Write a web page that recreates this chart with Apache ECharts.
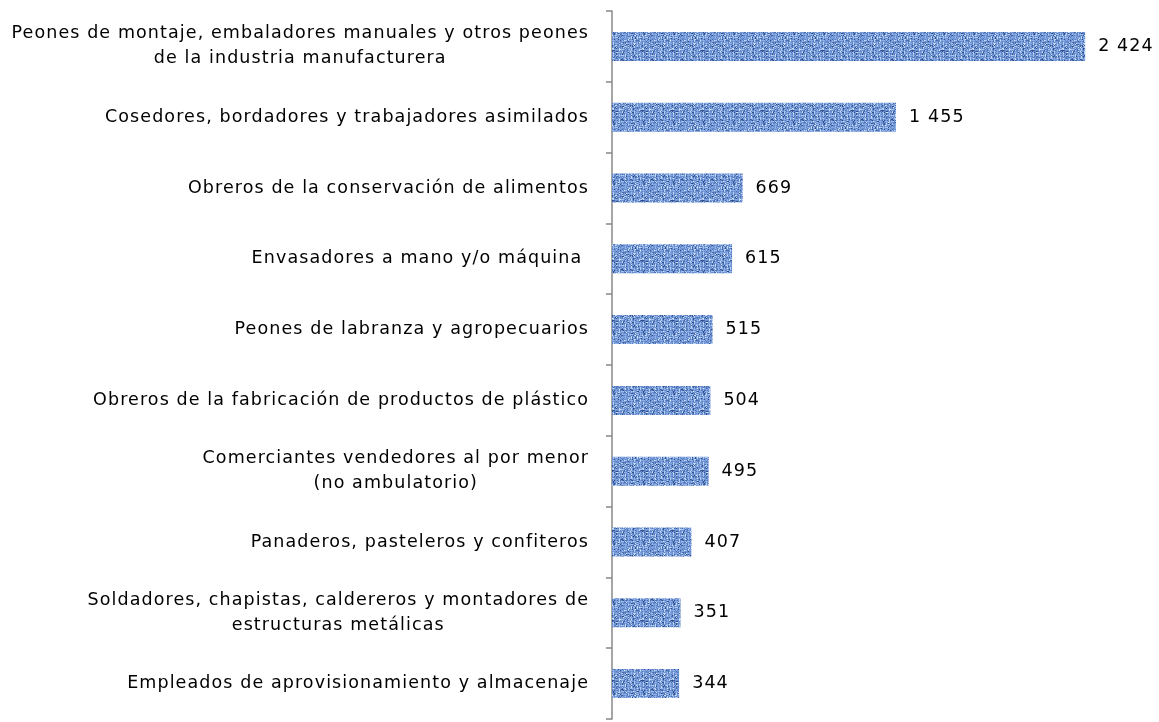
<!DOCTYPE html>
<html><head><meta charset="utf-8">
<script src="https://cdn.jsdelivr.net/npm/echarts@6/dist/echarts.min.js"></script>
<style>html,body{margin:0;padding:0;background:#fff}#c{width:1159px;height:722px}</style>
</head><body><div id="c"></div>
<script>
const categories = [
  "Peones de montaje, embaladores manuales y otros peones\nde la industria manufacturera",
  "Cosedores, bordadores y trabajadores asimilados",
  "Obreros de la conservación de alimentos",
  "Envasadores a mano y/o máquina ",
  "Peones de labranza y agropecuarios",
  "Obreros de la fabricación de productos de plástico",
  "Comerciantes vendedores al por menor\n(no ambulatorio)",
  "Panaderos, pasteleros y confiteros",
  "Soldadores, chapistas, caldereros y montadores de\nestructuras metálicas",
  "Empleados de aprovisionamiento y almacenaje"
];
const values = [2424, 1455, 669, 615, 515, 504, 495, 407, 351, 344];

const LS = '1.1px';
// measure text with the same letter spacing used for drawing
const mctx = document.createElement('canvas').getContext('2d');
if (echarts.setPlatformAPI) {
  echarts.setPlatformAPI({
    measureText: function (text, font) {
      mctx.font = font || '12px sans-serif';
      mctx.letterSpacing = LS;
      return mctx.measureText(text);
    }
  });
}

// woven linen-like blue texture tile (style only)
function makeTexture() {
  const cell = 3, n = 10, s = cell * n, c = document.createElement('canvas');
  c.width = s; c.height = s;
  const g = c.getContext('2d');
  function hash(a, b) { let h = (a * 374761393 + b * 668265263) | 0; h = (h ^ (h >>> 13)) * 1274126177 | 0; return ((h ^ (h >>> 16)) >>> 0) % 100; }
  const lightV = ['#a3c2f3', '#b5d0f7', '#c4daf9', '#93b5ec'];
  const lightH = ['#8db0ea', '#9ebff0', '#84a8e4', '#afcaf4'];
  const edge = ['#6a8fd0', '#7498d6', '#5d82c4', '#7ea1dc'];
  for (let j = 0; j < n; j++) {
    for (let i = 0; i < n; i++) {
      const vert = (i + j) % 2 === 0;
      const r = hash(i, j);
      for (let dy = 0; dy < cell; dy++) {
        for (let dx = 0; dx < cell; dx++) {
          const x = i * cell + dx, y = j * cell + dy;
          const core = vert ? dx === 1 : dy === 1;
          let col = core ? (vert ? lightV[r % 4] : lightH[r % 4]) : edge[(r + dx + dy) % 4];
          const p = hash(x + 31, y + 17);
          if (p < 6) col = '#2f4f8f';
          else if (p < 14) col = '#4a6eb0';
          else if (p > 95) col = '#d2e3fb';
          g.fillStyle = col; g.fillRect(x, y, 1, 1);
        }
      }
    }
  }
  return c;
}
const tex = makeTexture();

function fmt(v) { return String(v).replace(/\B(?=(\d{3})+(?!\d))/g, ' '); }

const FONT = 'DejaVu Sans';
const el = document.getElementById('c');
const chart = echarts.init(el);
chart.setOption({
  animation: false,
  textStyle: { fontFamily: FONT },
  grid: { left: 612, right: 59, top: 11, bottom: 3, containLabel: false },
  xAxis: { type: 'value', min: 0, max: 2500, show: false },
  yAxis: {
    type: 'category', data: categories, inverse: true,
    axisLine: { show: true, lineStyle: { color: '#888888', width: 1.5 } },
    axisTick: { show: true, length: 6, lineStyle: { color: '#888888', width: 1.5 } },
    axisLabel: {
      margin: 23, color: '#000', fontSize: 17.5, fontFamily: FONT, lineHeight: 25,
      formatter: function (v) {
        return v.split('\n').map(l => '{c|' + l + '}').join('\n');
      },
      rich: { c: { align: 'center', fontSize: 17.5, fontFamily: FONT, lineHeight: 25, color: '#000' } }
    }
  },
  series: [{
    type: 'bar', data: values, barWidth: 29,
    itemStyle: { color: { image: tex, repeat: 'repeat' } },
    label: { show: true, position: 'right', distance: 13, color: '#000', fontSize: 17.5, fontFamily: FONT, formatter: p => fmt(p.value) }
  }]
});
el.querySelectorAll('canvas').forEach(cv => { const x = cv.getContext('2d'); x.letterSpacing = LS; });
try { chart.getZr().painter.refresh(true); } catch (e) {}
</script></body></html>
